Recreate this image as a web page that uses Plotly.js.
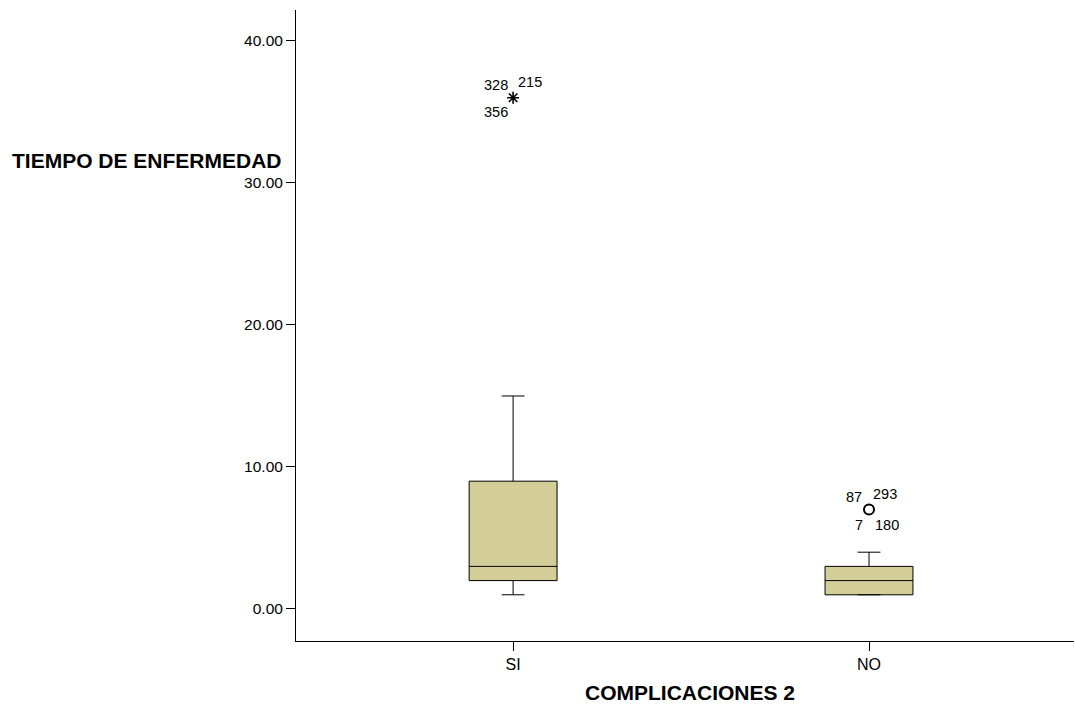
<!DOCTYPE html>
<html>
<head>
<meta charset="utf-8">
<script src="https://cdn.plot.ly/plotly-3.0.1.min.js"></script>
<style>html,body{margin:0;padding:0;background:#fff;}#chart{width:1075px;height:706px;}</style>
</head>
<body>
<div id="chart"></div>
<script>
// Data
const categories = ['SI', 'NO'];
const q1Values = [2, 1];
const medianValues = [3, 2];
const q3Values = [9, 3];
const lowerWhisker = [1, 1];
const upperWhisker = [15, 4];

// Extreme values (asterisk) and outliers (circle)
const extremeCat = ['SI'];
const extremeVal = [36];
const outlierCat = ['NO'];
const outlierVal = [7];

// Case labels next to each marker
const extremeLabels = ['328', '215', '356'];
const outlierLabels = ['87', '293', '7', '180'];

const yTickVals = [0, 10, 20, 30, 40];
const yTickText = ['0.00', '10.00', '20.00', '30.00', '40.00'];

const boxFill = 'rgb(211,206,152)';

const traces = [
  {
    type: 'box',
    x: categories,
    q1: q1Values,
    median: medianValues,
    q3: q3Values,
    lowerfence: lowerWhisker,
    upperfence: upperWhisker,
    width: 0.247,
    whiskerwidth: 0.26,
    fillcolor: boxFill,
    line: {color: '#000', width: 1},
    boxpoints: false,
    showlegend: false,
    hoverinfo: 'skip'
  },
  {
    type: 'scatter', mode: 'markers',
    x: extremeCat, y: extremeVal,
    marker: {symbol: 'asterisk-open', size: 10, color: '#000', line: {color: '#000', width: 1.6}},
    showlegend: false, hoverinfo: 'skip'
  },
  {
    type: 'scatter', mode: 'markers',
    x: outlierCat, y: outlierVal,
    marker: {symbol: 'circle-open', size: 10, color: '#000', line: {color: '#000', width: 2}},
    showlegend: false, hoverinfo: 'skip'
  }
];

const fam = 'Arial, Liberation Sans, sans-serif';
const labelFont = {family: fam, size: 14.5, color: '#000'};
const extremeOffsets = [[-17, 13], [17, 16], [-17, -14]];
const outlierOffsets = [[-15, 13], [16, 16], [-10, -15], [18, -15]];

const annotations = [];
extremeLabels.forEach((t, i) => {
  annotations.push({x: extremeCat[0], y: extremeVal[0], xref: 'x', yref: 'y', text: t, showarrow: false,
    xshift: extremeOffsets[i][0], yshift: extremeOffsets[i][1], font: labelFont});
});
outlierLabels.forEach((t, i) => {
  annotations.push({x: outlierCat[0], y: outlierVal[0], xref: 'x', yref: 'y', text: t, showarrow: false,
    xshift: outlierOffsets[i][0], yshift: outlierOffsets[i][1], font: labelFont});
});
annotations.push({
  xref: 'paper', yref: 'paper', x: (147 - 296) / 778, y: (641 - 160) / 631,
  xanchor: 'center', yanchor: 'middle', showarrow: false,
  text: '<b>TIEMPO DE ENFERMEDAD</b>',
  font: {family: fam, size: 21, color: '#000'}
});
annotations.push({
  xref: 'paper', yref: 'paper', x: (690 - 296) / 778, y: (641 - 692) / 631,
  xanchor: 'center', yanchor: 'middle', showarrow: false,
  text: '<b>COMPLICACIONES 2</b>',
  font: {family: fam, size: 21, color: '#000'}
});

const layout = {
  width: 1075, height: 706,
  margin: {l: 296, r: 1, t: 10, b: 65},
  paper_bgcolor: '#fff', plot_bgcolor: '#fff',
  font: {family: fam, size: 13, color: '#000'},
  showlegend: false,
  xaxis: {
    type: 'category', range: [-0.61, 1.576],
    showgrid: false, zeroline: false,
    showline: true, linecolor: '#000', linewidth: 1,
    ticks: 'outside', ticklen: 9, tickcolor: '#000', tickwidth: 1,
    tickfont: {size: 16}
  },
  yaxis: {
    range: [-2.254, 42.18],
    tickvals: yTickVals, ticktext: yTickText,
    showgrid: false, zeroline: false,
    showline: true, linecolor: '#000', linewidth: 1,
    ticks: 'outside', ticklen: 9, tickcolor: '#000', tickwidth: 1,
    tickfont: {size: 15.5}
  },
  annotations: annotations
};

Plotly.newPlot('chart', traces, layout, {displayModeBar: false, staticPlot: true});
</script>
</body>
</html>
